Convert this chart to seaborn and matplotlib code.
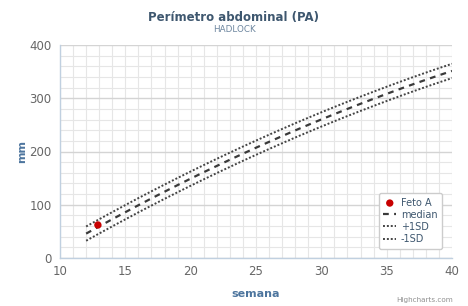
import pandas as pd
import matplotlib.pyplot as plt
import seaborn as sns

# --- Data ---
weeks = list(range(12, 41))
median = [45.8, 59.4, 72.8, 86.0, 99.1, 111.9, 124.5, 136.9, 149.1, 161.1,
          172.9, 184.5, 195.9, 207.1, 218.1, 228.9, 239.6, 250.0, 260.2, 270.2,
          280.0, 289.6, 299.0, 308.2, 317.3, 326.1, 334.7, 343.1, 351.3]
plus_sd = [59.2, 72.8, 86.2, 99.4, 112.5, 125.3, 137.9, 150.3, 162.5, 174.5,
           186.3, 197.9, 209.3, 220.5, 231.5, 242.3, 253.0, 263.4, 273.6, 283.6,
           293.4, 303.0, 312.4, 321.6, 330.7, 339.5, 348.1, 356.5, 364.7]
minus_sd = [32.4, 46.0, 59.4, 72.6, 85.7, 98.5, 111.1, 123.5, 135.7, 147.7,
            159.5, 171.1, 182.5, 193.7, 204.7, 215.5, 226.2, 236.6, 246.8, 256.8,
            266.6, 276.2, 285.6, 294.8, 303.9, 312.7, 321.3, 329.7, 337.9]
feto_week = [12.9]
feto_pa = [62]

curves = pd.DataFrame({'semana': weeks, 'median': median, '+1SD': plus_sd, '-1SD': minus_sd})
feto = pd.DataFrame({'semana': feto_week, 'mm': feto_pa})

# --- Styling ---
sns.set_style("white")
plt.rcParams['font.family'] = ['DejaVu Sans']

fig = plt.figure(figsize=(4.68, 3.06), dpi=100)
ax = fig.add_axes([60 / 468, 1 - 258 / 306, 392 / 468, 213 / 306])

sns.lineplot(data=curves, x='semana', y='median', ax=ax, color='#3a3a3a',
             linewidth=1.6, linestyle=(0, (2.6, 2.4)), label='median', zorder=3)
sns.lineplot(data=curves, x='semana', y='+1SD', ax=ax, color='#444444',
             linewidth=1.4, linestyle=(0, (1, 1)), label='+1SD', zorder=3)
sns.lineplot(data=curves, x='semana', y='-1SD', ax=ax, color='#444444',
             linewidth=1.4, linestyle=(0, (1, 1)), label='-1SD', zorder=3)
sns.scatterplot(data=feto, x='semana', y='mm', ax=ax, color='#c80000',
                s=28, edgecolor='none', label='Feto A', zorder=4)

ax.set_xlim(10, 40)
ax.set_ylim(0, 400)
ax.set_xticks(range(10, 41, 5))
ax.set_yticks(range(0, 401, 100))
ax.set_xticks(range(10, 41), minor=True)
ax.set_yticks(range(0, 401, 20), minor=True)
ax.grid(True, which='minor', color='#e6e6e6', linewidth=0.8)
ax.grid(True, which='major', axis='x', color='#e6e6e6', linewidth=0.8)
ax.grid(True, which='major', axis='y', color='#d4d4d4', linewidth=1.0)
ax.set_axisbelow(True)

for side in ['top', 'right']:
    ax.spines[side].set_visible(False)
ax.spines['left'].set_color('#c0d0e0')
ax.spines['bottom'].set_color('#c0d0e0')
ax.spines['left'].set_linewidth(1)
ax.spines['bottom'].set_linewidth(1)

ax.tick_params(axis='both', which='both', length=0, labelsize=8.5, colors='#666666')
ax.tick_params(axis='y', pad=6)
ax.tick_params(axis='x', pad=5)

ax.set_xlabel('semana', fontsize=8, fontweight='bold', color='#4d759e', labelpad=8)
ax.set_ylabel('mm', fontsize=8, fontweight='bold', color='#4d759e', labelpad=2)

fig.text(0.5, 1 - 17 / 306, 'Perímetro abdominal (PA)', ha='center', va='center',
         fontsize=8.5, fontweight='bold', color='#3e576f')
fig.text(0.5, 1 - 30 / 306, 'HADLOCK', ha='center', va='center',
         fontsize=6.3, color='#6d869f')
fig.text(1 - 15 / 468, 1 - 300 / 306, 'Highcharts.com', ha='right', va='center',
         fontsize=5.2, color='#909090')

handles, labels = ax.get_legend_handles_labels()
order = [labels.index(k) for k in ['Feto A', 'median', '+1SD', '-1SD']]
leg = ax.legend([handles[i] for i in order], [labels[i] for i in order],
                loc='lower right', bbox_to_anchor=(0.988, 0.02), fontsize=7,
                frameon=True, fancybox=True, framealpha=1, edgecolor='#cccccc',
                handlelength=1.3, handletextpad=0.5, labelspacing=0.22,
                borderpad=0.5)
for t in leg.get_texts():
    t.set_color('#3e576f')

plt.savefig('out.png', dpi=100)
plt.close()
